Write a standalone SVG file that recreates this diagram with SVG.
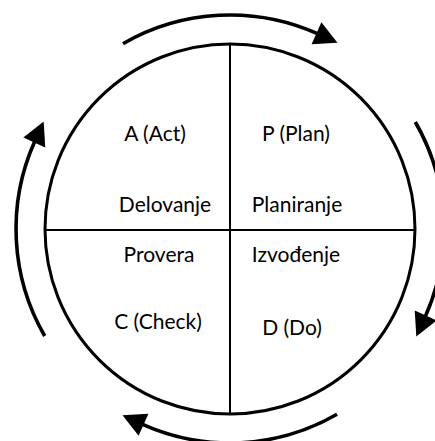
<svg xmlns="http://www.w3.org/2000/svg" width="435" height="441" viewBox="0 0 435 441">
  <style>
    .ring { fill: none; stroke: #000; stroke-width: 3; }
    .divider { stroke: #000; stroke-width: 2; }
    .cycle { fill: none; stroke: #000; stroke-width: 3.6; marker-end: url(#head); }
    text { font-family: Lato, "Liberation Sans", sans-serif; font-size: 21px; fill: #000; text-anchor: middle; }
  </style>
  <defs>
    <marker id="head" markerUnits="userSpaceOnUse" markerWidth="26" markerHeight="26" viewBox="-2 -13 26 26" refX="0" refY="0" orient="auto">
      <path d="M-1,-12 L22,0 L-1,12 Z" fill="#000"/>
    </marker>
  </defs>

  <rect width="435" height="441" fill="#fff"/>

  <!-- main circle split into four quadrants -->
  <g id="wheel">
    <circle class="ring" cx="230" cy="229" r="185"/>
    <line class="divider" x1="230" y1="44" x2="230" y2="414"/>
    <line class="divider" x1="45" y1="230" x2="415" y2="230"/>
  </g>

  <g id="act">
    <text x="155" y="141">A (Act)</text>
    <text x="165" y="212">Delovanje</text>
  </g>
  <g id="plan">
    <text x="296" y="141">P (Plan)</text>
    <text x="297" y="212">Planiranje</text>
  </g>
  <g id="check">
    <text x="159" y="262">Provera</text>
    <text x="158" y="329">C (Check)</text>
  </g>
  <g id="do">
    <text x="296" y="262">Izvođenje</text>
    <text x="292" y="335">D (Do)</text>
  </g>

  <!-- clockwise cycle arrows around the wheel -->
  <g id="connectors">
    <path class="cycle" d="M123,43.7 A214,214 0 0 1 317.4,33.7"/>
    <path class="cycle" d="M415.3,122 A214,214 0 0 1 425.3,316.4"/>
    <path class="cycle" d="M337,414.3 A214,214 0 0 1 142.6,424.3"/>
    <path class="cycle" d="M44.7,336 A214,214 0 0 1 34.7,141.6"/>
  </g>
</svg>
